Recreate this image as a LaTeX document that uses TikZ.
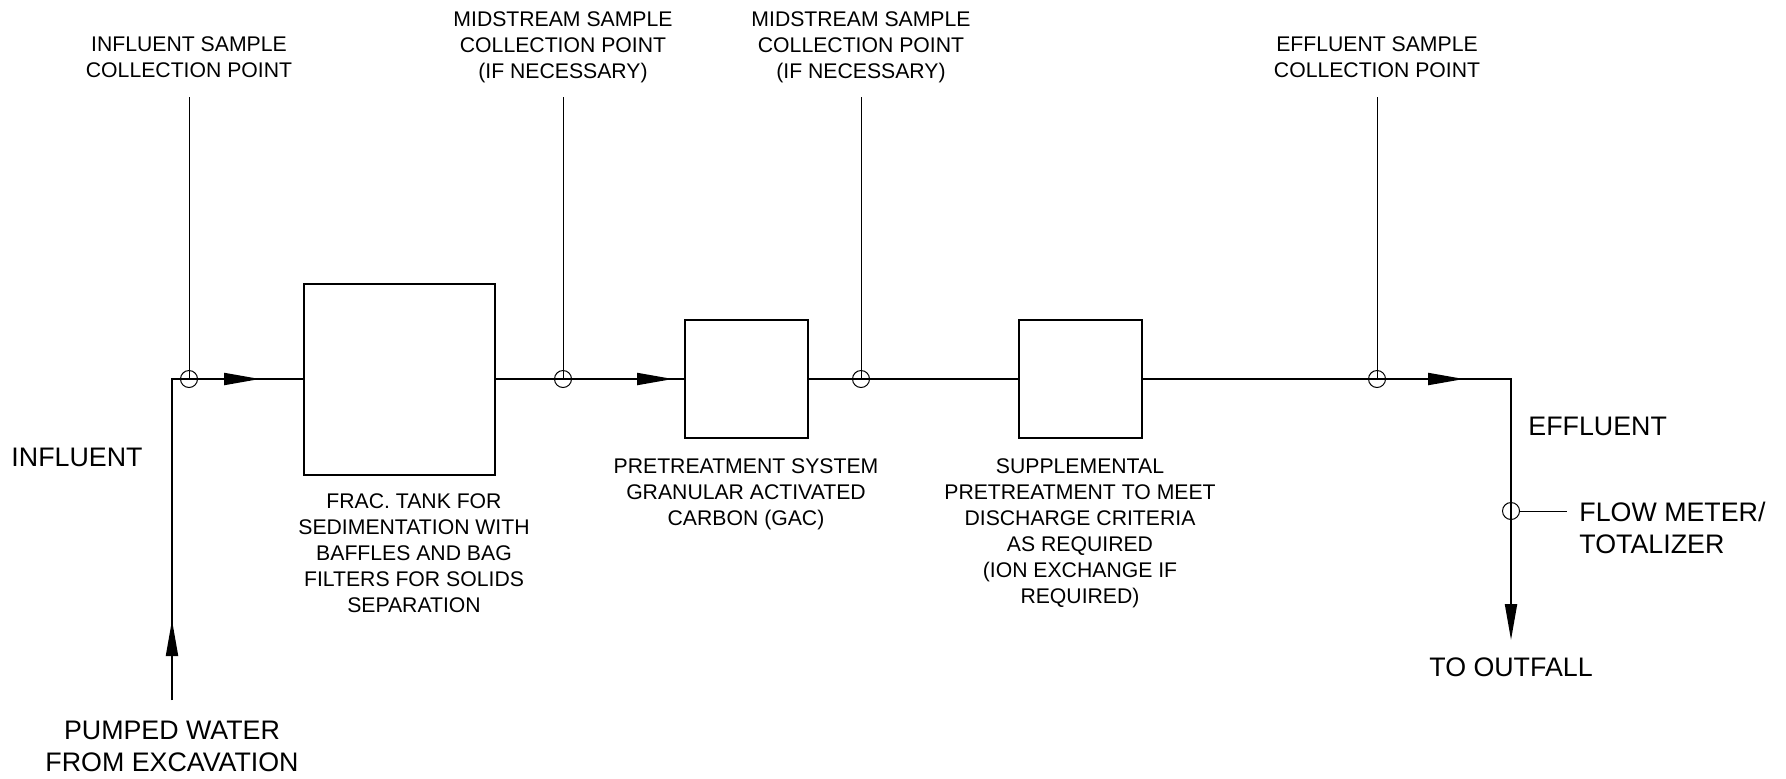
\documentclass[tikz,border=0pt]{standalone}
\usepackage{fontspec}
\setmainfont{Liberation Sans}
\usetikzlibrary{arrows.meta}

\begin{document}
\begin{tikzpicture}[x=0.5pt,y=-0.5pt,
  pipe/.style={line width=1pt},
  flow/.style={line width=1pt,-{Triangle[length=18pt,width=6pt]}},
  tap/.style={line width=0.5pt},
  unit/.style={draw,line width=1pt,rectangle,inner sep=0pt},
  port/.style={draw,line width=0.5pt,circle,inner sep=0pt,minimum size=8.5pt},
  lbl/.style={align=center,inner sep=0pt,font=\fontsize{10.6pt}{13pt}\selectfont},
  biglbl/.style={align=center,inner sep=0pt,font=\fontsize{13.4pt}{16pt}\selectfont}]

\useasboundingbox (0,0) rectangle (1786,778);

% feed
\coordinate (v1) at (172,700);
\coordinate (v2) at (172,620);
\coordinate (v3) at (172,379);

% treatment train
\node[unit,minimum width=95.5pt,minimum height=95.5pt] (tank) at (399.5,379) {};
\node[unit,minimum width=61.5pt,minimum height=59pt] (gac) at (746,379) {};
\node[unit,minimum width=61.5pt,minimum height=59pt] (supp) at (1080,379) {};

% sample points
\node[port] (s1) at (189,379) {};
\node[port] (s2) at (563,379) {};
\node[port] (s3) at (861,379) {};
\node[port] (s4) at (1377,379) {};
\node[port] (fm) at (1511,511) {};
\coordinate (t1) at (189,97);
\coordinate (t2) at (563,97);
\coordinate (t3) at (861,97);
\coordinate (t4) at (1377,97);
\coordinate (fmr) at (1567,511);

% arrow tips on the line
\coordinate (a1) at (260,379);
\coordinate (a2) at (673,379);
\coordinate (a4) at (1464,379);
\coordinate (v4) at (1511,379);
\coordinate (v5) at (1511,640);

% pipe runs
\draw[pipe] (v1) -- (v3) -- (s1.center) -- (tank.west);
\draw[pipe] (tank.east) -- (s2.center) -- (gac.west);
\draw[pipe] (gac.east) -- (s3.center) -- (supp.west);
\draw[pipe] (supp.east) -- (s4.center) -- (v4) -- (fm.center);

% flow arrows
\draw[flow] (v1) -- (v2);
\draw[flow] (s1.center) -- (a1);
\draw[flow] (s2.center) -- (a2);
\draw[flow] (s4.center) -- (a4);
\draw[flow] (fm.center) -- (v5);

\draw[tap] (t1) -- (s1.center);
\draw[tap] (t2) -- (s2.center);
\draw[tap] (t3) -- (s3.center);
\draw[tap] (t4) -- (s4.center);
\draw[tap] (fm.east) -- (fmr);

% labels
\node[lbl] (l1) at (189,57) {INFLUENT SAMPLE\\COLLECTION POINT};
\node[lbl] (l2) at (563,47) {MIDSTREAM SAMPLE\\COLLECTION POINT\\(IF NECESSARY)};
\node[lbl] (l3) at (861,47) {MIDSTREAM SAMPLE\\COLLECTION POINT\\(IF NECESSARY)};
\node[lbl] (l4) at (1377,57) {EFFLUENT SAMPLE\\COLLECTION POINT};
\node[lbl] (l5) at (414,553) {FRAC. TANK FOR\\SEDIMENTATION WITH\\BAFFLES AND BAG\\FILTERS FOR SOLIDS\\SEPARATION};
\node[lbl] (l6) at (746,494) {PRETREATMENT SYSTEM\\GRANULAR ACTIVATED\\CARBON (GAC)};
\node[lbl] (l7) at (1080,533) {SUPPLEMENTAL\\PRETREATMENT TO MEET\\DISCHARGE CRITERIA\\AS REQUIRED\\(ION EXCHANGE IF\\REQUIRED)};
\node[biglbl] (l8) at (77,457) {INFLUENT};
\node[biglbl] (l9) at (172,746) {PUMPED WATER\\FROM EXCAVATION};
\node[biglbl,anchor=west] (l10) at (1528,426) {EFFLUENT};
\node[biglbl,anchor=west,align=left] (l11) at (1579,528) {FLOW METER/\\TOTALIZER};
\node[biglbl] (l12) at (1511,667) {TO OUTFALL};
\end{tikzpicture}
\end{document}
